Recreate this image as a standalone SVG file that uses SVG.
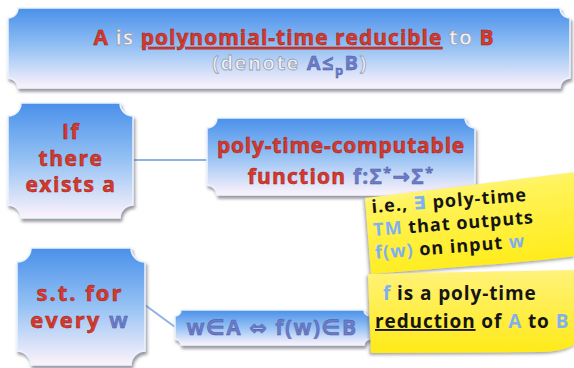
<svg xmlns="http://www.w3.org/2000/svg" width="574" height="368" viewBox="0 0 574 368">
<defs>
<linearGradient id="boxg" x1="0" y1="0" x2="0" y2="1">
<stop offset="0" stop-color="#4a90ea"/>
<stop offset="0.5" stop-color="#96c2f4"/>
<stop offset="1" stop-color="#fdf3fb"/>
</linearGradient>
<linearGradient id="note1g" x1="0" y1="0" x2="0.3" y2="1">
<stop offset="0" stop-color="#fbf7b4"/>
<stop offset="0.35" stop-color="#fff35a"/>
<stop offset="1" stop-color="#ffec1e"/>
</linearGradient>
<linearGradient id="note2g" x1="0" y1="0" x2="0" y2="1">
<stop offset="0" stop-color="#fff27a"/>
<stop offset="1" stop-color="#ffea18"/>
</linearGradient>
<filter id="sh" x="-10%" y="-10%" width="130%" height="140%">
<feDropShadow dx="1.5" dy="3" stdDeviation="1.5" flood-color="#606070" flood-opacity="0.65"/>
</filter>
<filter id="nsh" x="-10%" y="-10%" width="130%" height="140%">
<feDropShadow dx="-1.5" dy="2" stdDeviation="1.5" flood-color="#505050" flood-opacity="0.5"/>
</filter>
</defs>
<style>
.box{fill:url(#boxg);stroke:#eaf3ff;stroke-width:1.5;filter:url(#sh)}
.con{stroke:#8fb2e6;stroke-width:2;fill:none}
text{font-family:"Open Sans","DejaVu Sans",sans-serif;font-weight:bold}
.red{fill:#d8392b;stroke:#9a1f18;stroke-width:0.5}
.ghost{fill:#eef0f6;stroke:#9aa0b4;stroke-width:0.8}
.blue{fill:#6c7cc8;stroke:#4a58a0;stroke-width:0.4}
.lb{fill:#7fb0f0}
.blk{fill:#151515}
</style>
<rect width="574" height="368" fill="#ffffff"/>

<g id="connectors">
<line class="con" x1="133" y1="160" x2="207" y2="160"/>
<line class="con" x1="145" y1="305" x2="175" y2="327"/>
</g>

<g id="title">
<path class="box" d="M18,8 H560 A10,10 0 0 0 570,18 V78 A10,10 0 0 0 560,88 H18 A10,10 0 0 0 8,78 V18 A10,10 0 0 0 18,8 Z"/>
<text x="294" y="45" font-size="21" letter-spacing="1" text-anchor="middle"><tspan class="red">A</tspan><tspan class="ghost"> is </tspan><tspan class="red" text-decoration="underline">polynomial-time reducible</tspan><tspan class="ghost"> to </tspan><tspan class="red">B</tspan></text>
<text x="290" y="70" font-size="20" letter-spacing="1.5" text-anchor="middle"><tspan class="ghost">(denote </tspan><tspan class="blue">A≤</tspan><tspan class="blue" font-size="13" dy="5">p</tspan><tspan class="blue" dy="-5">B</tspan><tspan class="ghost">)</tspan></text>
</g>

<g id="if">
<path class="box" d="M21,103 H120 A13,13 0 0 0 133,116 V205 A13,13 0 0 0 120,218 H21 A13,13 0 0 0 8,205 V116 A13,13 0 0 0 21,103 Z"/>
<text class="red" font-size="21" letter-spacing="1.5" text-anchor="middle"><tspan x="71" y="139">If</tspan><tspan x="71" y="166">there</tspan><tspan x="71" y="192">exists a</tspan></text>
</g>

<g id="func">
<path class="box" d="M217,118 H465 A10,10 0 0 0 475,128 V185 A10,10 0 0 0 465,195 H217 A10,10 0 0 0 207,185 V128 A10,10 0 0 0 217,118 Z"/>
<text x="341" y="153" font-size="21" letter-spacing="0.8" text-anchor="middle" class="red">poly-time-computable</text>
<text x="341" y="184" font-size="21" letter-spacing="1.2" text-anchor="middle"><tspan class="red">function </tspan><tspan class="blue">f:Σ</tspan><tspan class="blue" font-size="15" dy="-6">*</tspan><tspan class="blue" dy="6">→Σ</tspan><tspan class="blue" font-size="15" dy="-6">*</tspan></text>
</g>

<g id="st">
<path class="box" d="M31,248 H131 A14,14 0 0 0 145,262 V351 A14,14 0 0 0 131,365 H31 A14,14 0 0 0 17,351 V262 A14,14 0 0 0 31,248 Z"/>
<text font-size="22" letter-spacing="2" text-anchor="middle"><tspan class="red" x="80" y="301">s.t. for</tspan><tspan x="80" y="328"><tspan class="red">every </tspan><tspan class="blue">w</tspan></tspan></text>
</g>

<g id="iff">
<path class="box" d="M181,310 H364 A6,6 0 0 0 370,316 V339 A6,6 0 0 0 364,345 H181 A6,6 0 0 0 175,339 V316 A6,6 0 0 0 181,310 Z"/>
<text x="272" y="335" font-size="21" letter-spacing="1.5" text-anchor="middle" class="blue">w∈A ⇔ f(w)∈B</text>
</g>

<g id="note1">
<path d="M365,198 L576,172 L576,256 Q530,262 470,266 L371,274 Z" fill="url(#note1g)" filter="url(#nsh)"/>
<g transform="translate(372,213) rotate(-4.5)">
<text font-size="18" letter-spacing="1"><tspan x="0" y="0"><tspan class="blk">i.e., </tspan><tspan class="lb">∃</tspan><tspan class="blk"> poly-time</tspan></tspan><tspan x="0" y="23"><tspan class="lb">TM</tspan><tspan class="blk"> that outputs</tspan></tspan><tspan x="0" y="46"><tspan class="lb">f(w)</tspan><tspan class="blk"> on input </tspan><tspan class="lb">w</tspan></tspan></text>
</g>
</g>

<g id="note2">
<path d="M368,274 L576,270 L576,344 Q562,352 540,352 L371,353 Z" fill="url(#note2g)" filter="url(#nsh)"/>
<text font-size="19" letter-spacing="0.9"><tspan x="383" y="300"><tspan class="lb">f</tspan><tspan class="blk"> is a poly-time</tspan></tspan><tspan x="375" y="328"><tspan class="blk" text-decoration="underline">reduction</tspan><tspan class="blk"> of </tspan><tspan class="lb">A</tspan><tspan class="blk"> to </tspan><tspan class="lb">B</tspan></tspan></text>
</g>
</svg>
